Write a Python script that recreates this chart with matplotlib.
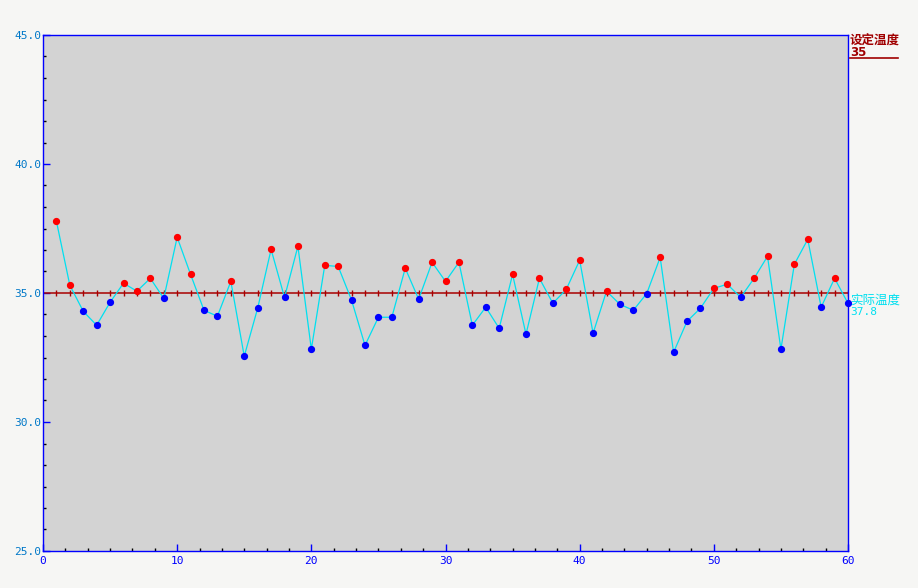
import matplotlib
matplotlib.use("Agg")
import matplotlib.pyplot as plt
from matplotlib.ticker import MultipleLocator
from matplotlib.lines import Line2D

plt.rcParams['font.family'] = ['Noto Sans CJK SC', 'DejaVu Sans']

samples = list(range(1, 61))
actual = [37.78, 35.30, 34.29, 33.75, 34.64, 35.38, 35.07, 35.57, 34.79, 37.16,
          35.72, 34.33, 34.10, 35.45, 32.55, 34.41, 36.69, 34.83, 36.81, 32.82,
          36.07, 36.03, 34.72, 32.97, 34.06, 34.06, 35.96, 34.76, 36.19, 35.45,
          36.19, 33.75, 34.45, 33.63, 35.72, 33.40, 35.57, 34.60, 35.14, 36.27,
          33.44, 35.07, 34.56, 34.33, 34.98, 36.38, 32.70, 33.90, 34.41, 35.18,
          35.34, 34.83, 35.57, 36.42, 32.82, 36.11, 37.08, 34.45, 35.57, 34.60]
setpoint = 35.0
setpoint_label = "设定温度"
setpoint_text = "35"
actual_label = "实际温度"
actual_text = "37.8"
y_ticks = [25.0, 30.0, 35.0, 40.0, 45.0]
x_ticks = [0, 10, 20, 30, 40, 50, 60]

W, H = 918, 588
fig = plt.figure(figsize=(W / 100, H / 100), dpi=100, facecolor='#F6F6F4')
ax = fig.add_axes([43 / W, 1 - 551 / H, (848 - 43) / W, (551 - 35) / H])
ax.set_facecolor('#D3D3D3')
ax.set_xlim(0, 60)
ax.set_ylim(25, 45)

# setpoint line with small ticks at each sample
ax.plot([0, 60], [setpoint, setpoint], color='#A80000', lw=1.1, zorder=2)
ax.plot(samples, [setpoint] * len(samples), ls='none', marker='|', ms=4,
        mew=1.0, color='#A80000', zorder=2)

# actual line
ax.plot(samples, actual, color='#00E0F0', lw=0.9, zorder=3)
above_x = [s for s, v in zip(samples, actual) if v > setpoint]
above_y = [v for v in actual if v > setpoint]
below_x = [s for s, v in zip(samples, actual) if v <= setpoint]
below_y = [v for v in actual if v <= setpoint]
ax.plot(above_x, above_y, ls='none', marker='o', ms=4.2, color='#FF0000', mec='#FF0000', zorder=4, clip_on=False)
ax.plot(below_x, below_y, ls='none', marker='o', ms=4.2, color='#0000FF', mec='#0000FF', zorder=4, clip_on=False)

for s in ax.spines.values():
    s.set_color('#0000FF')
    s.set_linewidth(1.0)

ax.set_yticks(y_ticks)
ax.set_yticklabels([f"{v:.1f}" for v in y_ticks], family='DejaVu Sans Mono', fontsize=8, color='#0078C8')
ax.yaxis.set_minor_locator(MultipleLocator(5 / 6))
ax.set_xticks(x_ticks)
ax.set_xticklabels([str(v) for v in x_ticks], family='DejaVu Sans Mono', fontsize=8, color='#0000FF')
ax.xaxis.set_minor_locator(MultipleLocator(10 / 6))
ax.tick_params(axis='both', which='major', direction='in', length=5, width=1, color='#0000FF', pad=1)
ax.tick_params(axis='both', which='minor', direction='in', length=2.5, width=1, color='#000000')
ax.tick_params(axis='x', which='major', pad=3.5)

# right-side annotations
fig.text(850 / W, 1 - 41 / H, setpoint_label, color='#A00000', fontsize=9, fontweight='bold',
         va='center', ha='left')
fig.text(850 / W, 1 - 53 / H, setpoint_text, color='#A00000', fontsize=8.5, fontweight='bold',
         va='center', ha='left', family='DejaVu Sans')
fig.add_artist(Line2D([850 / W, 898 / W], [1 - 57.5 / H, 1 - 57.5 / H], color='#A00000', lw=1.2))
fig.text(850 / W, 1 - 300 / H, actual_label, color='#00E0F0', fontsize=9,
         va='center', ha='left')
fig.text(850 / W, 1 - 312 / H, actual_text, color='#00E0F0', fontsize=8,
         va='center', ha='left', family='DejaVu Sans Mono')

fig.savefig('out.png', dpi=100, facecolor=fig.get_facecolor())
